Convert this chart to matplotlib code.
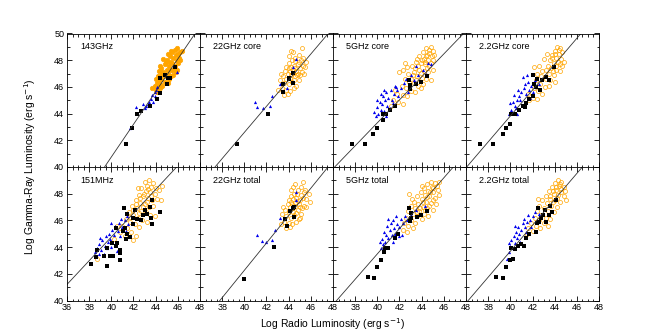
import matplotlib.pyplot as plt
from matplotlib.ticker import MultipleLocator

plt.rcParams['font.family'] = ['Liberation Sans', 'DejaVu Sans']

# ── Panel names and fitted relations (slope, intercept) ──────────────────────
titles = ["143GHz", "22GHz core", "5GHz core", "2.2GHz core",
          "151MHz", "22GHz total", "5GHz total", "2.2GHz total"]
fit_slope = [1.224, 0.979, 0.86, 0.97, 0.889, 1.025, 0.95, 0.971]
fit_icept = [-8.21, 3.43, 8.91, 5.02, 9.2, 1.26, 5.49, 4.85]

# ── Orange circles (log L_radio, log L_gamma) ────────────────────────────────
orange_143 = [(43.7, 45.9), (43.9, 46.1), (44.0, 45.8), (44.1, 46.3), (44.2, 46.0), (44.3, 46.5),
              (44.4, 46.2), (44.2, 46.8), (44.5, 46.6), (44.6, 46.9), (44.3, 47.2), (44.5, 47.4),
              (44.7, 47.1), (44.8, 46.4), (44.9, 46.8), (45.0, 47.3), (44.8, 47.7), (45.1, 47.0),
              (45.2, 47.6), (45.0, 48.0), (45.3, 47.9), (45.4, 47.3), (45.5, 47.8), (45.6, 48.2),
              (45.3, 48.3), (45.7, 47.6), (45.8, 48.4), (45.5, 48.6), (45.9, 48.0), (46.0, 48.5),
              (45.7, 48.8), (46.1, 48.2), (46.2, 48.6), (46.4, 48.7), (45.9, 47.3), (45.6, 46.9),
              (44.6, 46.1), (45.2, 46.6), (45.4, 46.8), (44.9, 47.9), (45.1, 48.5), (45.8, 47.1),
              (46.0, 47.8), (44.4, 47.6), (44.7, 48.1), (45.4, 48.7), (45.95, 48.9), (44.0, 46.6),
              (44.1, 45.6), (44.35, 45.9), (44.55, 47.0), (45.15, 46.3), (45.6, 47.3), (46.2, 48.0)]
orange_22c = [(44.4, 48.6), (45.2, 48.9), (44.25, 48.7), (44.6, 48.2), (44.9, 48.4), (45.1, 48.0),
              (44.3, 48.0), (44.0, 47.8), (43.8, 47.5), (44.2, 47.5), (44.5, 47.6), (44.8, 47.7),
              (45.0, 47.4), (45.3, 47.6), (45.5, 47.5), (45.6, 47.9), (45.3, 48.2), (43.7, 47.2),
              (43.9, 47.0), (44.1, 47.2), (44.4, 47.3), (44.7, 47.2), (45.0, 46.9), (45.2, 47.1),
              (43.5, 46.8), (43.8, 46.6), (44.2, 46.9), (44.6, 46.8), (44.9, 46.5), (43.6, 46.3),
              (44.0, 46.2), (44.3, 46.4), (44.7, 46.1), (43.4, 45.9), (43.8, 45.8), (44.1, 45.7),
              (43.6, 45.4), (43.9, 45.5), (44.5, 45.9), (43.3, 47.0), (45.4, 47.0), (44.0, 48.3),
              (43.2, 46.5), (43.0, 45.8), (44.35, 47.05), (44.6, 47.45), (44.85, 47.0), (44.15, 46.65),
              (44.45, 46.55), (44.75, 46.9), (44.05, 47.4), (44.55, 47.95), (44.9, 47.9)]
orange_5c = [(44.4, 48.9), (44.7, 48.8), (45.0, 48.7), (44.1, 48.6), (44.5, 48.4), (44.9, 48.3),
             (43.8, 48.3), (44.2, 48.1), (44.6, 48.0), (45.0, 48.0), (43.5, 47.9), (43.9, 47.8),
             (44.3, 47.7), (44.7, 47.6), (42.3, 47.3), (42.7, 47.5), (43.1, 47.6), (43.4, 47.4),
             (43.8, 47.3), (44.2, 47.2), (44.6, 47.1), (45.0, 47.3), (42.8, 47.0), (43.2, 46.9),
             (43.6, 46.8), (44.0, 46.7), (44.4, 46.6), (44.8, 46.5), (42.5, 46.6), (42.9, 46.4),
             (43.3, 46.3), (43.7, 46.1), (44.1, 46.2), (42.2, 46.1), (42.6, 45.9), (43.0, 45.7),
             (43.4, 45.6), (41.8, 45.5), (42.3, 45.4), (42.7, 45.3), (41.4, 45.0), (41.9, 44.9),
             (42.3, 44.7), (41.2, 44.6), (43.9, 45.9), (44.3, 47.9), (43.6, 48.1), (42.0, 47.1),
             (41.6, 45.8), (44.8, 49.0), (45.1, 48.4), (42.5, 47.8), (44.65, 48.55), (44.35, 48.35),
             (44.0, 48.0), (43.7, 47.6), (44.45, 47.45), (44.85, 47.8), (43.35, 47.1), (43.95, 47.05),
             (43.05, 46.6), (43.5, 46.55)]
orange_22cg = [(44.2, 49.0), (44.5, 48.9), (44.0, 48.7), (44.4, 48.5), (44.7, 48.6), (43.8, 48.4),
               (44.1, 48.2), (44.6, 48.1), (43.6, 48.0), (43.9, 47.8), (44.3, 47.9), (44.7, 47.6),
               (43.4, 47.6), (43.7, 47.4), (44.1, 47.3), (44.5, 47.2), (43.2, 47.3), (43.5, 47.0),
               (43.9, 46.9), (42.15, 47.5), (42.6, 47.6), (42.9, 47.2), (42.4, 47.0), (42.8, 46.8),
               (43.2, 46.6), (43.6, 46.5), (42.3, 46.5), (42.7, 46.2), (43.1, 46.0), (43.5, 46.1),
               (42.1, 45.9), (42.5, 45.7), (42.9, 45.5), (41.6, 45.5), (42.0, 45.2), (42.4, 45.1),
               (41.7, 45.0), (44.0, 46.4), (44.8, 47.9), (43.0, 48.1), (43.3, 48.5), (44.35, 48.75),
               (44.05, 48.45), (43.75, 48.15), (44.45, 47.75), (44.15, 47.55), (43.85, 47.2)]
orange_151 = [(43.0, 48.9), (43.4, 49.0), (43.8, 48.8), (43.2, 48.6), (43.6, 48.5), (44.0, 48.4),
              (42.7, 48.4), (43.1, 48.2), (43.5, 48.1), (43.9, 48.0), (44.3, 48.3), (42.5, 47.9),
              (42.9, 47.8), (43.3, 47.7), (43.7, 47.5), (44.1, 47.6), (42.2, 47.5), (42.6, 47.3),
              (43.0, 47.2), (43.4, 47.0), (43.8, 47.1), (44.45, 47.5), (41.9, 47.1), (42.3, 46.9),
              (42.7, 46.7), (43.1, 46.6), (43.5, 46.4), (41.6, 46.6), (42.0, 46.4), (42.4, 46.2),
              (42.8, 46.0), (43.2, 45.9), (41.3, 46.1), (41.7, 45.9), (42.1, 45.7), (42.5, 45.5),
              (41.0, 45.6), (41.4, 45.4), (41.8, 45.1), (42.2, 44.8), (42.0, 44.5), (40.8, 45.1),
              (41.2, 44.8), (38.7, 43.1), (40.5, 45.6), (44.6, 48.6), (42.4, 48.4), (43.9, 46.3),
              (40.2, 44.6), (43.3, 48.35), (42.95, 48.0), (42.6, 47.65), (42.25, 47.2), (41.95, 46.75),
              (43.55, 47.85), (43.2, 47.4), (42.85, 47.0), (42.5, 46.55), (41.65, 46.25)]
orange_22t = [(44.6, 48.7), (45.3, 48.9), (44.4, 48.5), (44.8, 48.3), (45.1, 48.5), (45.4, 48.1),
              (44.5, 48.0), (44.2, 47.8), (44.0, 47.5), (44.4, 47.6), (44.7, 47.7), (45.0, 47.5),
              (45.3, 47.7), (45.6, 47.6), (45.8, 48.0), (45.5, 48.3), (43.9, 47.2), (44.1, 47.0),
              (44.3, 47.2), (44.6, 47.3), (44.9, 47.2), (45.2, 46.9), (45.4, 47.1), (43.7, 46.8),
              (44.0, 46.6), (44.4, 46.9), (44.8, 46.8), (45.1, 46.5), (43.8, 46.3), (44.2, 46.2),
              (44.5, 46.4), (44.9, 46.1), (43.6, 45.9), (44.0, 45.8), (44.3, 45.7), (43.8, 45.4),
              (44.1, 45.5), (44.7, 45.9), (43.5, 47.0), (45.6, 47.0), (44.2, 48.3), (43.4, 46.5),
              (43.3, 45.7), (45.9, 47.4), (45.0, 46.2), (44.55, 47.05), (44.8, 47.45), (45.05, 47.0),
              (44.35, 46.65), (44.65, 46.55), (44.25, 47.4), (44.75, 47.95), (45.1, 47.9)]
orange_5t = [(44.8, 48.9), (45.2, 48.8), (44.5, 48.7), (44.9, 48.5), (45.4, 48.6), (44.2, 48.4),
             (44.6, 48.2), (45.0, 48.1), (45.5, 48.3), (43.9, 48.1), (44.3, 47.9), (44.7, 47.8),
             (45.2, 47.7), (45.6, 47.9), (43.6, 47.8), (44.0, 47.6), (44.4, 47.4), (44.8, 47.3),
             (45.3, 47.2), (43.3, 47.4), (43.7, 47.2), (44.1, 47.0), (44.5, 46.9), (45.0, 46.8),
             (43.0, 47.1), (43.4, 46.9), (43.8, 46.7), (44.2, 46.5), (44.6, 46.3), (42.8, 46.7),
             (43.2, 46.5), (43.6, 46.3), (44.0, 46.1), (42.6, 46.2), (43.0, 46.0), (43.4, 45.8),
             (42.4, 45.8), (42.8, 45.6), (43.2, 45.4), (42.3, 45.3), (42.7, 45.1), (43.1, 47.6),
             (42.9, 48.0), (45.6, 48.9), (44.0, 48.6), (45.05, 48.45), (44.75, 48.1), (44.45, 47.75),
             (44.15, 47.35), (43.85, 46.95), (43.55, 46.6), (45.0, 47.5), (44.65, 47.1), (44.3, 46.75)]
orange_22tg = [(44.3, 49.0), (44.6, 48.9), (44.0, 48.8), (44.4, 48.6), (44.8, 48.5), (43.8, 48.5),
               (44.1, 48.3), (44.6, 48.1), (43.5, 48.2), (43.9, 48.0), (44.3, 47.9), (44.8, 47.8),
               (43.2, 47.8), (43.6, 47.6), (44.0, 47.5), (44.5, 47.4), (42.9, 47.5), (43.3, 47.3),
               (43.7, 47.1), (44.2, 47.0), (42.6, 47.1), (43.0, 46.9), (43.4, 46.7), (43.9, 46.6),
               (42.4, 46.7), (42.8, 46.4), (43.2, 46.2), (43.6, 46.1), (42.2, 46.2), (42.6, 46.0),
               (43.0, 45.8), (43.4, 45.6), (41.9, 45.8), (42.3, 45.6), (42.7, 45.4), (41.6, 45.4),
               (42.0, 45.2), (42.5, 47.6), (44.9, 48.2), (45.0, 47.5), (41.5, 45.0), (44.45, 48.75),
               (44.15, 48.5), (43.85, 48.2), (43.55, 47.85), (44.55, 48.35), (44.2, 47.7), (43.85, 47.35)]

# ── Blue triangles ───────────────────────────────────────────────────────────
blue_143 = [(41.7, 42.9), (42.25, 44.5), (42.9, 44.7), (43.15, 44.55), (43.3, 44.75), (43.4, 44.9),
            (43.6, 45.1), (43.7, 45.4), (43.9, 45.3), (43.9, 45.65), (44.05, 45.8), (43.8, 44.9),
            (43.0, 44.4), (44.1, 46.0), (45.9, 47.1)]
blue_22c = [(41.0, 44.9), (41.15, 44.5), (41.7, 44.45), (42.3, 44.6), (42.5, 45.3), (43.2, 46.2),
            (43.85, 45.9), (44.65, 48.1), (44.35, 47.5)]
blue_5c = [(39.9, 43.8), (40.1, 44.0), (40.3, 44.3), (40.0, 44.5), (40.4, 44.7), (40.6, 44.2),
           (40.2, 44.9), (40.7, 45.0), (40.5, 45.3), (40.9, 44.6), (41.0, 45.2), (40.8, 45.6),
           (41.2, 45.8), (41.3, 45.0), (41.1, 44.4), (41.5, 45.5), (41.6, 46.1), (41.8, 45.8),
           (40.6, 45.8), (40.4, 44.0), (40.8, 43.8), (41.4, 44.8), (41.9, 45.3), (42.1, 45.9),
           (42.4, 46.3), (41.7, 46.0), (42.6, 46.6), (43.0, 46.9), (43.3, 46.5), (43.7, 46.9),
           (44.1, 47.3), (44.4, 47.0), (44.6, 47.8), (42.8, 45.6), (43.5, 47.6), (44.85, 47.75),
           (40.0, 45.0), (40.3, 45.5), (39.7, 44.1)]
blue_22cg = [(39.9, 44.0), (40.1, 44.3), (40.4, 44.6), (40.2, 44.9), (40.6, 45.0), (40.5, 44.4),
             (40.8, 45.3), (41.0, 45.6), (40.9, 45.0), (41.2, 45.9), (41.4, 45.5), (41.3, 46.2),
             (41.6, 46.4), (41.7, 45.8), (41.9, 46.1), (42.0, 45.6), (42.2, 46.5), (40.7, 45.8),
             (41.1, 46.75), (41.5, 46.9), (40.0, 44.8), (40.3, 45.4), (41.8, 45.2), (42.3, 46.0),
             (42.6, 46.2), (42.9, 46.6), (41.3, 44.9), (40.6, 44.0)]
blue_151 = [(38.5, 43.6), (38.7, 43.9), (38.9, 44.2), (39.1, 43.8), (39.2, 44.5), (39.4, 44.1),
            (39.5, 44.8), (39.7, 44.4), (39.8, 45.0), (39.9, 44.6), (40.1, 45.3), (40.2, 44.9),
            (40.3, 45.6), (40.4, 44.3), (40.6, 45.2), (40.7, 45.8), (40.8, 44.8), (41.0, 45.5),
            (41.2, 46.0), (41.3, 45.2), (41.5, 45.7), (39.3, 43.5), (39.6, 43.9), (40.0, 44.0),
            (40.5, 43.7), (38.9, 43.5), (40.9, 46.1), (41.4, 46.3), (39.0, 44.7), (40.0, 45.8)]
blue_22t = [(41.15, 44.9), (41.55, 44.45), (42.0, 44.4), (42.5, 44.55), (42.75, 45.25), (43.25, 46.2),
            (44.7, 48.1), (44.7, 47.5)]
blue_5t = [(40.3, 43.9), (40.5, 44.2), (40.4, 44.6), (40.7, 44.4), (40.8, 44.9), (40.6, 45.1),
           (41.0, 44.7), (41.1, 45.3), (41.3, 44.9), (40.9, 45.6), (41.2, 45.8), (41.5, 45.4),
           (41.6, 45.0), (41.8, 45.7), (41.4, 46.0), (42.0, 45.5), (42.1, 46.1), (42.3, 45.8),
           (42.5, 46.3), (41.7, 46.3), (42.0, 44.8), (41.4, 44.4), (40.2, 44.4), (42.7, 46.0),
           (43.5, 46.8), (44.3, 47.1), (43.0, 46.4), (41.0, 46.1), (42.2, 44.9)]
blue_22tg = [(39.7, 43.1), (39.9, 43.6), (40.0, 44.1), (40.2, 43.9), (40.1, 44.5), (40.4, 44.3),
             (40.3, 44.8), (40.6, 44.7), (40.5, 45.1), (40.8, 45.0), (40.7, 45.5), (41.0, 45.3),
             (41.1, 45.8), (41.3, 45.5), (41.2, 46.1), (41.5, 45.9), (41.6, 46.4), (41.8, 46.0),
             (42.0, 46.3), (41.4, 45.1), (40.9, 44.4), (42.2, 46.6), (42.4, 46.0), (42.6, 46.5),
             (41.9, 45.5), (40.4, 45.6), (39.9, 44.3)]

# ── Black squares ────────────────────────────────────────────────────────────
black_143 = [(41.3, 41.75), (41.85, 42.95), (42.3, 44.0), (42.7, 44.2), (43.5, 44.6), (44.1, 45.1),
             (44.4, 45.55), (44.35, 46.7), (44.8, 46.9), (45.0, 46.2), (45.1, 46.7), (45.3, 46.7),
             (45.7, 47.5)]
black_22c = [(39.35, 41.7), (42.1, 44.0), (43.5, 45.6), (43.45, 46.2), (44.0, 46.7), (44.35, 47.05),
             (44.35, 46.3), (44.05, 46.6)]
black_5c = [(37.7, 41.75), (38.85, 41.7), (39.6, 42.5), (39.95, 42.9), (40.55, 43.55), (40.5, 43.95),
            (40.8, 43.95), (41.1, 44.25), (41.55, 44.6), (42.85, 46.5), (42.95, 46.15), (42.95, 45.85),
            (43.45, 46.25), (43.9, 46.35), (44.45, 46.8)]
black_22cg = [(37.3, 41.75), (38.4, 41.7), (39.35, 42.5), (39.65, 42.95), (39.95, 43.2), (40.05, 43.95),
              (40.45, 44.0), (40.8, 44.25), (41.1, 44.55), (41.4, 44.8), (41.7, 45.1), (42.0, 46.9),
              (42.15, 46.25), (42.45, 46.6), (42.65, 45.75), (42.85, 46.5), (43.2, 46.75), (43.5, 46.5),
              (43.95, 47.5), (42.3, 46.0), (42.0, 45.3), (41.3, 44.5)]
black_151 = [(38.2, 42.7), (38.65, 43.25), (38.75, 43.75), (39.3, 43.3), (39.6, 42.55), (39.9, 43.3),
             (40.15, 43.3), (40.75, 43.05), (40.8, 43.55), (40.8, 43.75), (39.6, 43.9), (40.05, 44.3),
             (40.45, 44.05), (40.55, 44.3), (41.35, 44.6), (41.65, 44.75), (41.45, 45.0), (41.05, 45.2),
             (40.45, 45.4), (41.25, 45.4), (42.0, 46.2), (41.15, 46.9), (41.45, 46.5), (42.15, 46.75),
             (42.35, 46.1), (42.65, 46.0), (42.85, 46.4), (43.05, 46.75), (43.2, 46.5), (43.45, 47.0),
             (43.65, 47.5), (43.55, 46.2), (43.7, 45.75), (44.35, 46.6), (42.0, 45.75)]
black_22t = [(40.0, 41.6), (42.65, 44.0), (43.65, 46.1), (43.85, 45.55), (44.15, 46.7), (44.35, 46.9),
             (44.45, 46.25), (44.5, 47.0)]
black_5t = [(39.2, 41.75), (39.7, 41.7), (40.0, 42.5), (40.35, 43.0), (40.6, 43.6), (40.7, 43.95),
            (41.0, 43.95), (41.6, 44.7), (41.9, 45.0), (42.9, 46.95), (43.0, 46.55), (42.95, 45.95),
            (43.0, 46.2), (43.6, 46.25), (43.95, 46.4), (44.45, 46.7)]
black_22tg = [(38.7, 41.75), (39.3, 41.7), (39.6, 42.5), (40.0, 43.0), (40.25, 43.1), (40.1, 43.95),
              (40.4, 43.85), (40.7, 44.1), (40.95, 44.25), (41.2, 44.05), (41.45, 44.7), (41.7, 44.95),
              (42.3, 45.1), (42.5, 46.95), (42.6, 45.9), (42.4, 45.8), (42.95, 46.4), (43.1, 46.75),
              (43.45, 46.4), (43.6, 47.1), (43.75, 46.6), (44.1, 47.5), (42.8, 46.2), (43.2, 45.9)]

orange_sets = [orange_143, orange_22c, orange_5c, orange_22cg,
               orange_151, orange_22t, orange_5t, orange_22tg]
blue_sets = [blue_143, blue_22c, blue_5c, blue_22cg,
             blue_151, blue_22t, blue_5t, blue_22tg]
black_sets = [black_143, black_22c, black_5c, black_22cg,
              black_151, black_22t, black_5t, black_22tg]

ORANGE = '#FFA500'

fig = plt.figure(figsize=(6.67, 3.34), dpi=100)
left0, width = 67 / 667, 133 / 667
height = 133.5 / 334
bottoms = [1 - 167 / 334, 1 - 300.5 / 334]

for k in range(8):
    row, col = divmod(k, 4)
    ax = fig.add_axes([left0 + col * width, bottoms[row], width, height])

    o = orange_sets[k]
    if k == 0:
        ax.plot([p[0] for p in o], [p[1] for p in o], 'o', ms=3.2, color=ORANGE,
                mec=ORANGE, mew=0.5)
    else:
        ax.plot([p[0] for p in o], [p[1] for p in o], 'o', ms=2.9, mfc='none',
                mec=ORANGE, mew=0.5)
    b = blue_sets[k]
    ax.plot([p[0] for p in b], [p[1] for p in b], '^', ms=2.3, color='#0000ee', mew=0)
    s = black_sets[k]
    ax.plot([p[0] for p in s], [p[1] for p in s], 's', ms=3.0, color='black', mew=0)

    xs = [36, 48]
    ax.plot(xs, [fit_slope[k] * x + fit_icept[k] for x in xs], color='#333333', lw=0.6)

    ax.set_xlim(36, 48)
    ax.set_ylim(40, 50)
    ax.xaxis.set_major_locator(MultipleLocator(2))
    ax.xaxis.set_minor_locator(MultipleLocator(0.5))
    ax.yaxis.set_major_locator(MultipleLocator(2))
    ax.yaxis.set_minor_locator(MultipleLocator(1))
    ax.tick_params(which='both', direction='in', top=True, right=True,
                   labelsize=6.5, width=0.6, pad=2)
    ax.tick_params(which='major', length=3.5)
    ax.tick_params(which='minor', length=1.8)
    for sp in ax.spines.values():
        sp.set_linewidth(0.6)

    if col == 0:
        if row == 0:
            ax.set_yticks([40, 42, 44, 46, 48, 50])
        else:
            ax.set_yticks([40, 42, 44, 46, 48])
    else:
        ax.set_yticklabels([])
    if row == 1:
        if col == 0:
            ax.set_xticks([36, 38, 40, 42, 44, 46, 48])
        else:
            ax.set_xticks([38, 40, 42, 44, 46, 48])
    else:
        ax.set_xticklabels([])

    ax.text(0.1, 0.9, titles[k], transform=ax.transAxes, fontsize=6.5,
            ha='left', va='center')

fig.text(30 / 667, 1 - 167 / 334, 'Log Gamma-Ray Luminosity (erg s$^{-1}$)',
         rotation=90, ha='center', va='center', fontsize=7.5)
fig.text(333 / 667, 1 - 324 / 334, 'Log Radio Luminosity (erg s$^{-1}$)',
         ha='center', va='center', fontsize=7.5)

fig.savefig('out.png', dpi=100)
